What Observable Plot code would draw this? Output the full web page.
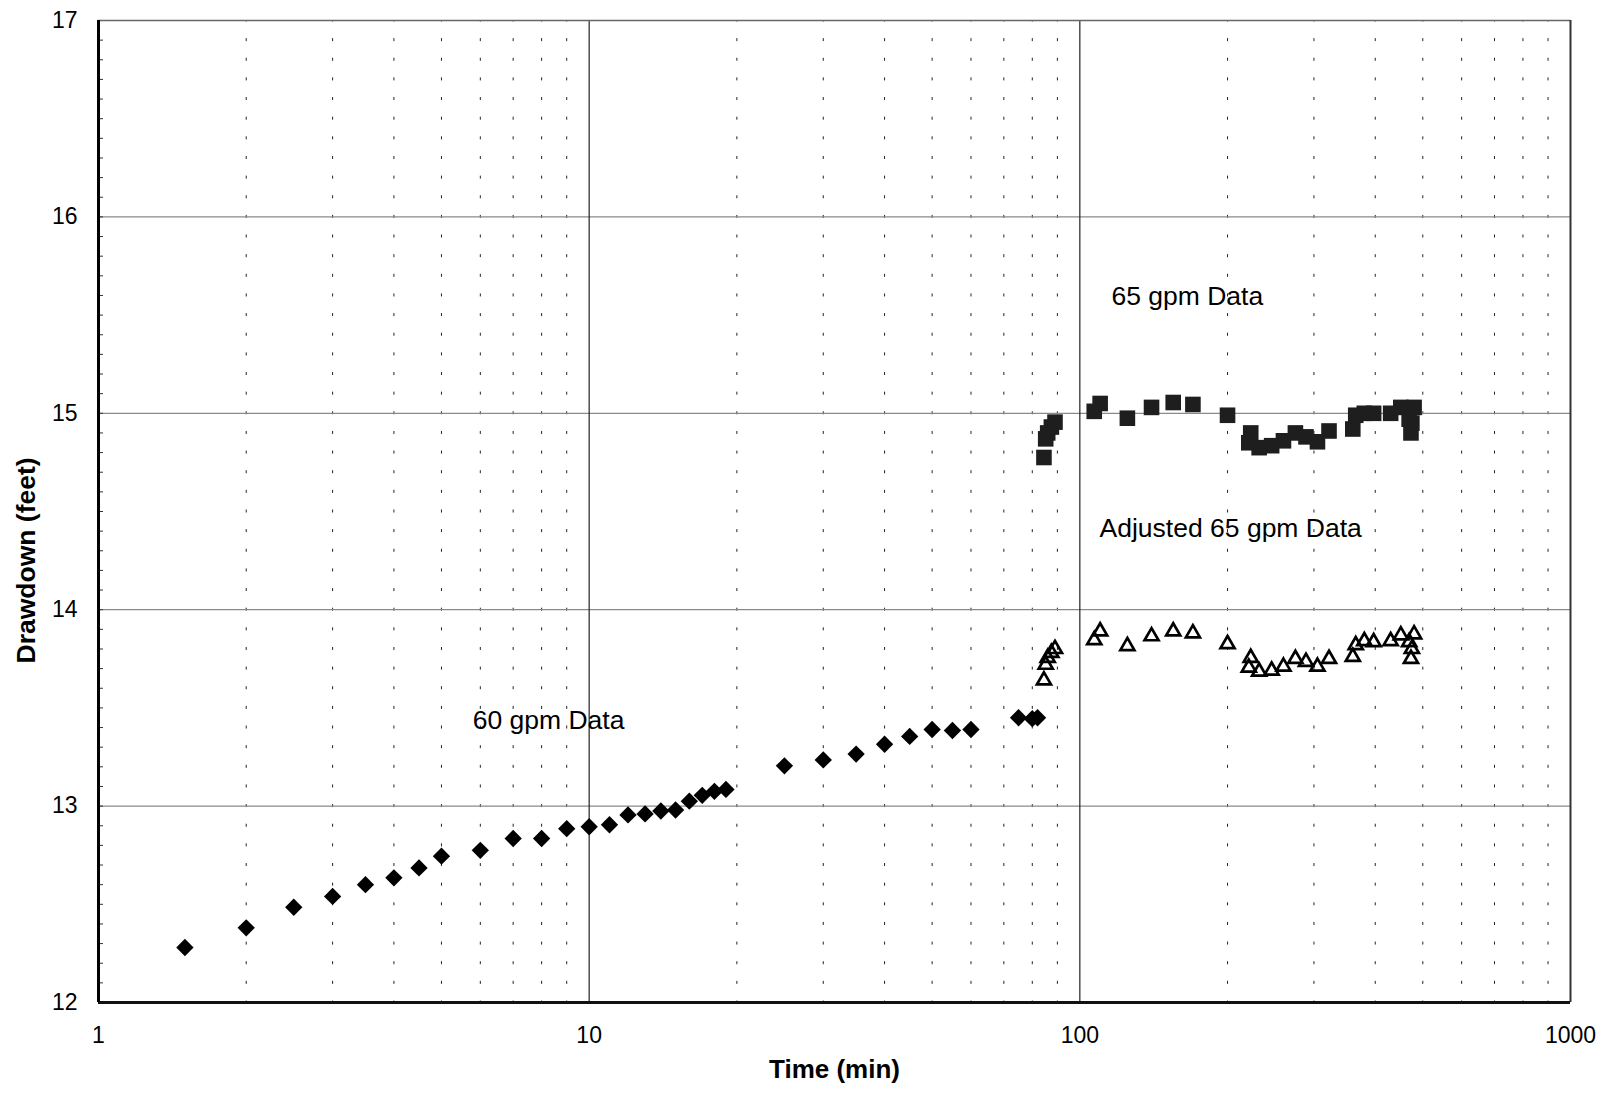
<!DOCTYPE html>
<html><head><meta charset="utf-8">
<script src="https://cdn.jsdelivr.net/npm/d3@7"></script>
<script src="https://cdn.jsdelivr.net/npm/@observablehq/plot@0.6"></script>
<style>body{margin:0;background:#fff;}#chart svg{display:block;}</style>
</head><body><div id="chart"></div>
<script>
// 60 gpm step
const time60 = [1.5,2,2.5,3,3.5,4,4.5,5,6,7,8,9,10,11,12,13,14,15,16,17,18,19,25,30,35,40,45,50,55,60,75,80,82];
const drawdown60 = [12.28,12.38,12.485,12.54,12.60,12.635,12.685,12.745,12.775,12.835,12.835,12.885,12.895,12.905,12.955,12.96,12.975,12.98,13.025,13.055,13.075,13.085,13.205,13.235,13.265,13.315,13.355,13.39,13.385,13.39,13.45,13.445,13.45];
// 65 gpm step
const time65 = [84.5,85.2,86,87.5,89,107,110,125,140,155,170,200,221,223,232,246,260,275,289,305,322,360,365,380,397,430,451,469,473,475,480];
const drawdown65 = [14.775,14.87,14.90,14.93,14.955,15.01,15.05,14.975,15.03,15.055,15.045,14.99,14.85,14.90,14.825,14.835,14.86,14.90,14.88,14.855,14.91,14.92,14.99,15.00,15.00,15.00,15.03,14.97,14.90,14.95,15.03];
const drawdownAdj = [13.64,13.72,13.755,13.78,13.80,13.845,13.89,13.815,13.865,13.89,13.88,13.825,13.705,13.755,13.685,13.69,13.71,13.75,13.735,13.71,13.75,13.76,13.82,13.84,13.835,13.84,13.87,13.835,13.75,13.80,13.875];

const xTicks = [1,10,100,1000];
const yTicks = [12,13,14,15,16,17];
const xMinor = [2,3,4,5,6,7,8,9,20,30,40,50,60,70,80,90,200,300,400,500,600,700,800,900];
const yMinor = d3.range(121,171).map(v => v / 10);

const labelText = ["65 gpm Data","Adjusted 65 gpm Data","60 gpm Data"];
const labelTime = [116,109.7,5.79];
const labelDrawdown = [15.595,14.415,13.435];

const d60 = time60.map((t,i)=>({t, d: drawdown60[i]}));
const d65 = time65.map((t,i)=>({t, d: drawdown65[i]}));
const dAdj = time65.map((t,i)=>({t, d: drawdownAdj[i]}));
const labels = labelText.map((s,i)=>({s, t: labelTime[i], d: labelDrawdown[i]}));

const chart = Plot.plot({
  width: 1606, height: 1094,
  marginLeft: 98, marginRight: 36, marginTop: 20, marginBottom: 92,
  style: {fontFamily: "'Liberation Sans', Arial, Helvetica, sans-serif", background: "#fff", color: "#000"},
  x: {type: "log", domain: [1,1000], axis: null},
  y: {domain: [12,17], axis: null},
  marks: [
    Plot.ruleX(xMinor, {stroke: "#222", strokeWidth: 1, strokeDasharray: "3,16.64", strokeDashoffset: 1.5}),
    Plot.ruleY([13,14,15,16], {stroke: "#8a8a8a", strokeWidth: 1.2}),
    Plot.ruleX([10,100], {stroke: "#222", strokeWidth: 1.2}),
    Plot.axisY(yMinor, {tickSize: -5, text: null, label: null, stroke: "#333"}),
    Plot.ruleY([17], {stroke: "#666", strokeWidth: 1.5}),
    Plot.ruleX([1000], {stroke: "#333", strokeWidth: 2}),
    Plot.ruleY([12], {stroke: "#111", strokeWidth: 3}),
    Plot.ruleX([1], {stroke: "#000", strokeWidth: 3}),
    Plot.dot(d60, {x: "t", y: "d", symbol: "diamond2", r: 7.8, fill: "#000", stroke: "none"}),
    Plot.dot(d65, {x: "t", y: "d", symbol: "square", r: 8.8, fill: "#1e1e1e", stroke: "none"}),
    Plot.dot(dAdj, {x: "t", y: "d", symbol: "triangle", r: 5.2, fill: "none", stroke: "#000", strokeWidth: 2.7}),
    Plot.text(labels, {x: "t", y: "d", text: "s", textAnchor: "start", fontSize: 26.5, fill: "#000"}),
    Plot.text(xTicks, {x: d => d, text: d => String(d), frameAnchor: "bottom", dy: 40, fontSize: 23, fill: "#000"}),
    Plot.text(yTicks, {y: d => d, text: d => String(d), frameAnchor: "left", dx: -21, textAnchor: "end", fontSize: 23, fill: "#000"}),
    Plot.text(["Time (min)"], {frameAnchor: "bottom", dy: 75, fontSize: 26, fontWeight: "bold", fill: "#000"}),
    Plot.text(["Drawdown (feet)"], {frameAnchor: "left", dx: -72, dy: 152, rotate: -90, fontSize: 26.5, fontWeight: "bold", fill: "#000"})
  ]
});
document.getElementById("chart").appendChild(chart);
</script>
</body></html>
